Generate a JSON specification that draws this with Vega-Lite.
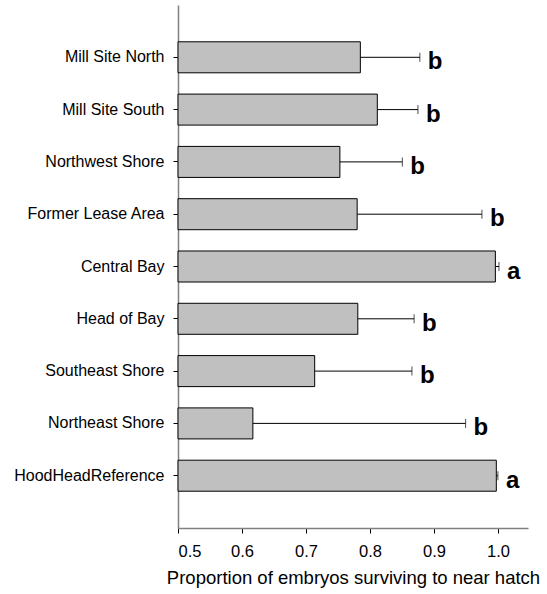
{
  "$schema": "https://vega.github.io/schema/vega-lite/v6.json",
  "autosize": "none",
  "width": 350,
  "height": 523,
  "padding": {"left": 178, "top": 5, "right": 19, "bottom": 66},
  "background": "white",
  "config": {
    "view": {"stroke": null},
    "font": "Liberation Sans",
    "axis": {
      "labelFont": "Liberation Sans",
      "titleFont": "Liberation Sans",
      "labelColor": "#000",
      "titleColor": "#000",
      "domainColor": "#808080",
      "domainWidth": 1.5,
      "tickColor": "#000",
      "tickSize": 5,
      "grid": false
    }
  },
  "data": {
    "values": [
      {"site": "Mill Site North", "mean": 0.785, "upper": 0.878, "group": "b"},
      {"site": "Mill Site South", "mean": 0.8115, "upper": 0.875, "group": "b"},
      {"site": "Northwest Shore", "mean": 0.753, "upper": 0.8506, "group": "b"},
      {"site": "Former Lease Area", "mean": 0.78, "upper": 0.975, "group": "b"},
      {"site": "Central Bay", "mean": 0.996, "upper": 1.0016, "group": "a"},
      {"site": "Head of Bay", "mean": 0.781, "upper": 0.869, "group": "b"},
      {"site": "Southeast Shore", "mean": 0.7136, "upper": 0.8656, "group": "b"},
      {"site": "Northeast Shore", "mean": 0.617, "upper": 0.9495, "group": "b"},
      {"site": "HoodHeadReference", "mean": 0.9975, "upper": 1.0, "group": "a"}
    ]
  },
  "encoding": {
    "y": {
      "field": "site",
      "type": "nominal",
      "sort": null,
      "scale": {"paddingInner": 0.407, "paddingOuter": 0.7035},
      "axis": {"title": null, "labelFontSize": 16, "labelPadding": 9, "tickSize": 5}
    }
  },
  "layer": [
    {
      "mark": {"type": "rule", "color": "#000", "strokeWidth": 1},
      "encoding": {
        "x": {"field": "mean", "type": "quantitative"},
        "x2": {"field": "upper"}
      }
    },
    {
      "mark": {"type": "tick", "color": "#000", "size": 9, "thickness": 1},
      "encoding": {
        "x": {"field": "upper", "type": "quantitative"}
      }
    },
    {
      "mark": {"type": "bar", "fill": "#c0c0c0", "stroke": "#000", "strokeWidth": 1},
      "encoding": {
        "x": {
          "field": "mean",
          "type": "quantitative",
          "scale": {"domain": [0.5, 1.047], "zero": false, "nice": false},
          "axis": {
            "values": [0.5, 0.6, 0.7, 0.8, 0.9, 1.0],
            "format": ".1f",
            "labelFontSize": 16.5,
            "labelPadding": 10,
            "title": "Proportion of embryos surviving to near hatch",
            "titleFontSize": 18.5,
            "titleFontWeight": "normal",
            "titlePadding": 9
          }
        },
        "x2": {"datum": 0.5}
      }
    },
    {
      "mark": {"type": "text", "align": "left", "baseline": "alphabetic", "dx": 8, "dy": 12, "fontSize": 24, "fontWeight": "bold", "font": "Liberation Sans", "color": "#000"},
      "encoding": {
        "x": {"field": "upper", "type": "quantitative"},
        "text": {"field": "group"}
      }
    }
  ]
}
